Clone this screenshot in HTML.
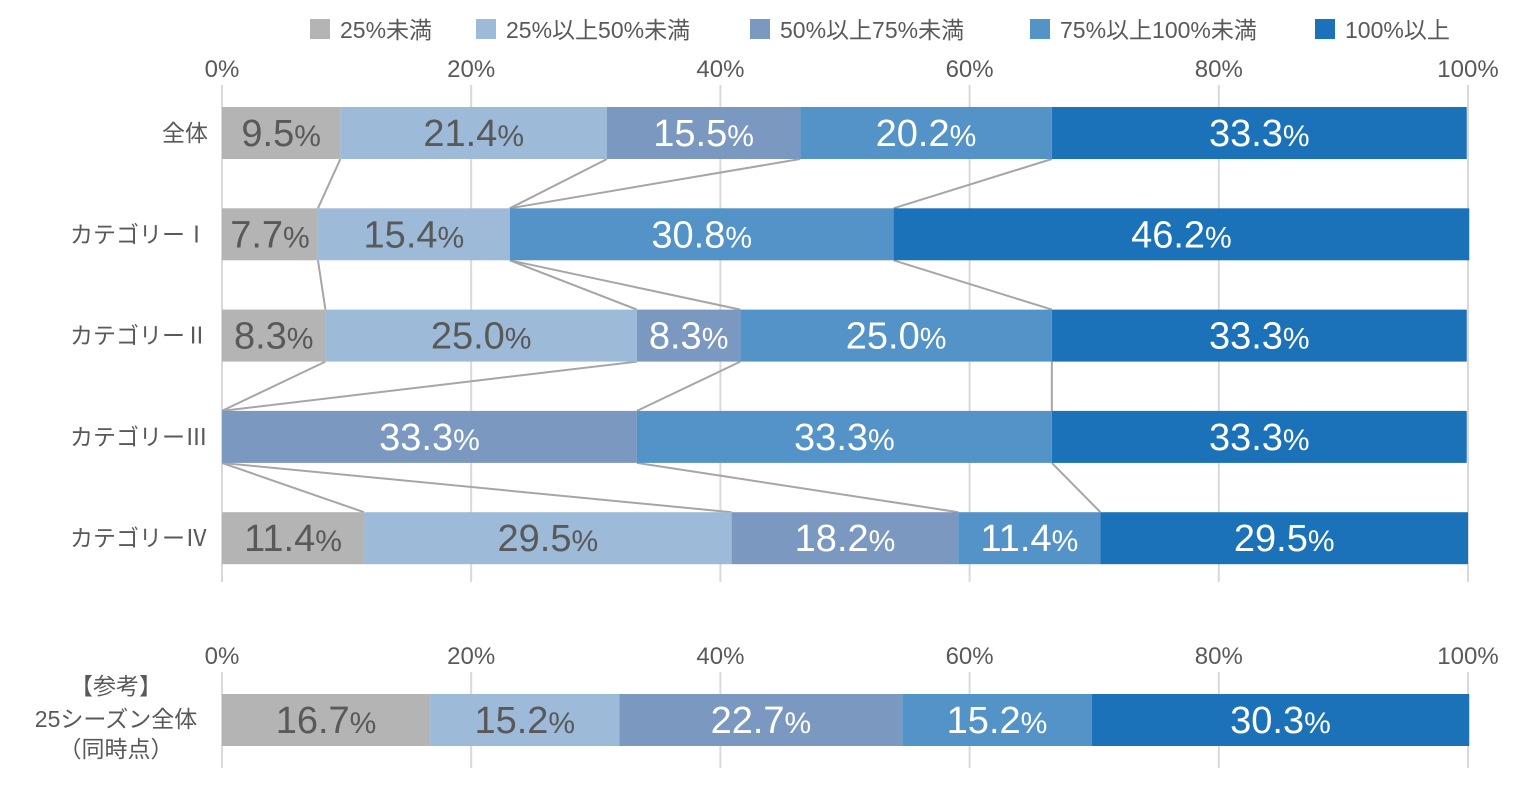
<!DOCTYPE html>
<html><head><meta charset="utf-8"><style>
body{margin:0;background:#fff;width:1523px;height:789px;overflow:hidden;font-family:"Liberation Sans","Noto Sans CJK JP",sans-serif}
svg text{font-family:"Liberation Sans","Noto Sans CJK JP",sans-serif}
</style></head><body>
<svg id="chart" width="1523" height="789" xmlns="http://www.w3.org/2000/svg"></svg>
<script>
const seriesNames=["25%未満","25%以上50%未満","50%以上75%未満","75%以上100%未満","100%以上"];
const categories=["全体","カテゴリーⅠ","カテゴリーⅡ","カテゴリーⅢ","カテゴリーⅣ"];
const s1=[9.5,7.7,8.3,0,11.4];
const s2=[21.4,15.4,25.0,0,29.5];
const s3=[15.5,0,8.3,33.3,18.2];
const s4=[20.2,30.8,25.0,33.3,11.4];
const s5=[33.3,46.2,33.3,33.3,29.5];
const refValues=[16.7,15.2,22.7,15.2,30.3];
const tickLabels=["0%","20%","40%","60%","80%","100%"];
const ticks=[0,20,40,60,80,100];
const colors=["#b4b4b4","#9dbad9","#7b98c0","#5393c8","#1c72b8"];
const labelColors=["#595959","#595959","#fff","#fff","#fff"];
const svg=document.getElementById('chart');
const NS="http://www.w3.org/2000/svg";
const X0=222,X1=1468;
const x=v=>X0+(X1-X0)*v/100;
const rowY=i=>107+i*101.3;
const BH=52;
function el(t,a,p){const e=document.createElementNS(NS,t);for(const k in a)e.setAttribute(k,a[k]);(p||svg).appendChild(e);return e;}
// legend
const legX=[310,476,750,1030,1315];
seriesNames.forEach((n,i)=>{
 const r=el('rect',{x:legX[i],y:19,width:20,height:20,fill:colors[i]});
 
 
 const t=el('text',{x:legX[i]+30,y:38,'font-size':23,fill:'#595959'});t.textContent=n;
 
 
});
function axis(yLab,g0,g1,name){
 ticks.forEach((v,i)=>{
  const l=el('line',{x1:x(v),x2:x(v),y1:g0,y2:g1,stroke:'#d9d9d9','stroke-width':2});
  
  
  const t=el('text',{x:x(v),y:yLab,'font-size':24,fill:'#595959','text-anchor':'middle'});t.textContent=tickLabels[i];
  
  
 });
}
axis(77,85,582,'top-axis');
axis(664,672,768,'bottom-axis');
function bar(vals,y,name){
 let c=0;
 vals.forEach((v,i)=>{
  if(v>0){
   const r=el('rect',{x:x(c),y:y,width:x(c+v)-x(c),height:BH,fill:colors[i]});
   
   
   const t=el('text',{x:(x(c)+x(c+v))/2,y:y+BH/2+13,'font-size':38,fill:labelColors[i],'text-anchor':'middle'});
   const a=document.createElementNS(NS,'tspan');a.textContent=v.toFixed(1);t.appendChild(a);
   const b=document.createElementNS(NS,'tspan');b.setAttribute('font-size','30');b.textContent='%';t.appendChild(b);
   
   
  }
  c+=v;
 });
}
const rows=categories.map((_,i)=>[s1[i],s2[i],s3[i],s4[i],s5[i]]);
// connector lines
for(let i=0;i<rows.length-1;i++){
 let a=0,b=0;
 for(let k=0;k<4;k++){
  a+=rows[i][k];b+=rows[i+1][k];
  const l=el('line',{x1:x(a),y1:rowY(i)+BH,x2:x(b),y2:rowY(i+1),stroke:'#a6a6a6','stroke-width':2});
  
  
 }
}
rows.forEach((r,i)=>{
 bar(r,rowY(i),'row-'+(i+1));
 const t=el('text',{x:208,y:rowY(i)+BH/2+8,'font-size':23,fill:'#595959','text-anchor':'end'});t.textContent=categories[i];
 
 
});
bar(refValues,694,'reference-row');
[["【参考】",694],["25シーズン全体",727],["（同時点）",757]].forEach(([s,y])=>{
 const t=el('text',{x:116,y:y,'font-size':23,fill:'#595959','text-anchor':'middle'});t.textContent=s;
 
 
});
</script>
</body></html>
